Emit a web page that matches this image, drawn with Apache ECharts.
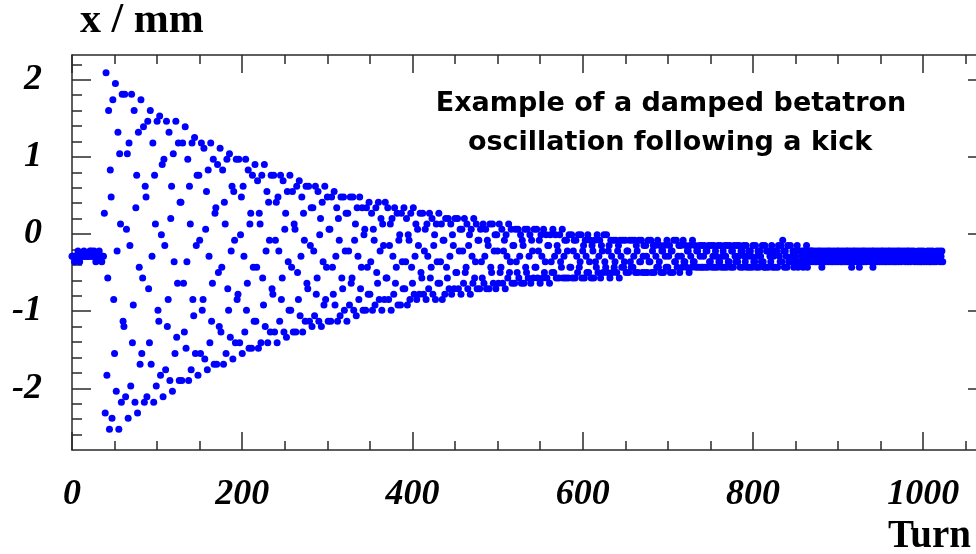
<!DOCTYPE html>
<html>
<head>
<meta charset="utf-8">
<script src="https://cdn.jsdelivr.net/npm/echarts/dist/echarts.min.js"></script>
<style>
html,body{margin:0;padding:0;background:#fff;overflow:hidden;width:976px;height:554px;}
#chart{width:990px;height:554px;}
</style>
</head>
<body>
<div id="chart"></div>
<script>
// ---- Data: horizontal beam position x (mm) per turn ----
// turns 0-39 (before / at the kick)
const xBeforeKick = [
 -0.29,-0.29,-0.29,-0.36,-0.29,-0.29,-0.29,-0.22,-0.29,-0.36,
 -0.29,-0.29,-0.29,-0.29,-0.22,-0.29,-0.29,-0.29,-0.29,-0.29,
 -0.29,-0.22,-0.29,-0.22,-0.29,-0.29,-0.22,-0.29,-0.36,-0.29,
 -0.29,-0.29,-0.22,-0.29,-0.29,-0.36,-0.29,-0.29, 0.27,-2.32
];
// turns 40-391
const xTurns40 = [
 2.09,-1.83,-0.57,1.60,-2.53,0.83,0.48,-2.39,1.74,-0.85,-1.55,
 1.95,-2.04,-0.22,1.32,-2.53,1.04,0.13,-2.18,1.81,-1.13,-1.20,
 1.81,-2.11,0.06,1.04,-2.39,1.18,-0.15,-1.97,1.81,-1.41,-0.92,
 1.60,-2.18,0.34,0.76,-2.32,1.32,-0.43,-1.69,1.74,-1.55,-0.57,
 1.39,-2.18,0.62,0.48,-2.11,1.46,-0.71,-1.41,1.60,-1.69,-0.29,
 1.18,-2.18,0.76,0.13,-1.97,1.46,-0.99,-1.13,1.53,-1.83,-0.01,
 0.90,-2.11,0.97,-0.15,-1.76,1.46,-1.20,-0.85,1.32,-1.90,0.20,
 0.62,-2.04,1.04,-0.36,-1.55,1.46,-1.34,-0.64,1.18,-1.90,0.41,
 0.41,-1.90,1.18,-0.64,-1.27,1.39,-1.48,-0.36,0.97,-1.90,0.62,
 0.13,-1.76,1.18,-0.85,-1.06,1.25,-1.55,-0.15,0.76,-1.83,0.76,
 -0.08,-1.55,1.18,-0.99,-0.85,1.11,-1.62,0.06,0.55,-1.76,0.83,
 -0.29,-1.41,1.18,-1.13,-0.64,0.97,-1.69,0.27,0.34,-1.69,0.90,
 -0.50,-1.20,1.11,-1.27,-0.43,0.83,-1.69,0.41,0.13,-1.55,0.97,
 -0.71,-0.99,1.04,-1.34,-0.22,0.62,-1.62,0.55,-0.08,-1.41,0.97,
 -0.85,-0.78,0.97,-1.41,-0.01,0.48,-1.55,0.62,-0.29,-1.27,0.97,
 -0.99,-0.64,0.83,-1.48,0.13,0.27,-1.48,0.76,-0.43,-1.13,0.90,
 -1.13,-0.43,0.69,-1.48,0.27,0.13,-1.41,0.76,-0.57,-0.92,0.90,
 -1.20,-0.22,0.55,-1.41,0.41,-0.08,-1.27,0.76,-0.71,-0.78,0.76,
 -1.27,-0.08,0.41,-1.41,0.48,-0.22,-1.13,0.76,-0.85,-0.57,0.69,
 -1.27,0.06,0.27,-1.34,0.55,-0.36,-0.99,0.76,-0.99,-0.43,0.55,
 -1.27,0.13,0.06,-1.27,0.62,-0.50,-0.85,0.69,-1.06,-0.29,0.48,
 -1.27,0.27,-0.08,-1.13,0.62,-0.64,-0.71,0.62,-1.13,-0.15,0.34,
 -1.20,0.34,-0.22,-1.06,0.62,-0.78,-0.57,0.55,-1.13,-0.01,0.20,
 -1.20,0.41,-0.36,-0.92,0.62,-0.85,-0.43,0.48,-1.13,0.06,0.06,
 -1.13,0.48,-0.43,-0.78,0.55,-0.92,-0.29,0.34,-1.13,0.20,-0.08,
 -1.06,0.48,-0.57,-0.71,0.48,-0.99,-0.22,0.27,-1.13,0.27,-0.22,
 -0.92,0.48,-0.64,-0.57,0.48,-0.99,-0.08,0.13,-1.06,0.34,-0.29,
 -0.85,0.48,-0.71,-0.43,0.34,-0.99,-0.01,0.06,-0.99,0.34,-0.43,
 -0.78,0.41,-0.78,-0.36,0.27,-0.99,0.06,-0.08,-0.92,0.34,-0.50,
 -0.64,0.41,-0.85,-0.22,0.20,-0.99,0.13,-0.15,-0.85,0.41,-0.57,
 -0.57,0.34,-0.85,-0.15,0.13,-0.99,0.20,-0.29,-0.78,0.34,-0.64,
 -0.43,0.27,-0.92,-0.08,-0.01,-0.92,0.27,-0.36,-0.71,0.34,-0.71
];
// turns 392-743
const xTurns392 = [
 -0.36,0.20,-0.92,-0.01,-0.08,-0.85,0.27,-0.43,-0.64,0.34,-0.78,
 -0.29,0.13,-0.85,0.06,-0.15,-0.78,0.27,-0.50,-0.57,0.27,-0.78,
 -0.22,0.06,-0.85,0.13,-0.29,-0.71,0.27,-0.57,-0.43,0.20,-0.78,
 -0.15,-0.01,-0.85,0.13,-0.36,-0.64,0.27,-0.64,-0.36,0.13,-0.85,
 -0.08,-0.08,-0.78,0.20,-0.43,-0.57,0.20,-0.71,-0.29,0.13,-0.78,
 -0.01,-0.15,-0.71,0.20,-0.50,-0.50,0.20,-0.71,-0.22,0.06,-0.78,
 0.06,-0.22,-0.64,0.20,-0.50,-0.43,0.13,-0.71,-0.15,-0.01,-0.78,
 0.06,-0.29,-0.64,0.20,-0.57,-0.36,0.13,-0.71,-0.08,-0.08,-0.71,
 0.06,-0.36,-0.57,0.13,-0.64,-0.29,0.06,-0.71,-0.08,-0.15,-0.71,
 0.13,-0.43,-0.50,0.13,-0.64,-0.22,-0.01,-0.71,-0.01,-0.22,-0.64,
 0.13,-0.50,-0.43,0.06,-0.64,-0.22,-0.08,-0.71,-0.01,-0.29,-0.57,
 0.13,-0.50,-0.36,0.06,-0.64,-0.15,-0.15,-0.64,0.06,-0.36,-0.50,
 0.06,-0.57,-0.29,-0.01,-0.64,-0.08,-0.15,-0.64,0.06,-0.43,-0.50,
 0.06,-0.57,-0.29,-0.01,-0.64,-0.08,-0.22,-0.57,0.06,-0.43,-0.43,
 0.06,-0.57,-0.22,-0.08,-0.64,-0.01,-0.29,-0.57,0.06,-0.50,-0.36,
 -0.01,-0.57,-0.15,-0.15,-0.64,-0.01,-0.36,-0.50,0.06,-0.50,-0.29,
 -0.01,-0.57,-0.15,-0.22,-0.57,-0.01,-0.36,-0.43,0.06,-0.57,-0.29,
 -0.08,-0.57,-0.08,-0.22,-0.57,-0.01,-0.43,-0.43,-0.01,-0.57,-0.22,
 -0.08,-0.57,-0.08,-0.29,-0.50,-0.01,-0.43,-0.36,-0.01,-0.57,-0.22,
 -0.15,-0.57,-0.08,-0.29,-0.50,-0.01,-0.50,-0.36,-0.08,-0.57,-0.15,
 -0.22,-0.57,-0.08,-0.36,-0.43,-0.01,-0.50,-0.29,-0.08,-0.57,-0.15,
 -0.22,-0.50,-0.01,-0.36,-0.43,-0.01,-0.50,-0.22,-0.15,-0.57,-0.08,
 -0.29,-0.50,-0.08,-0.43,-0.36,-0.08,-0.50,-0.22,-0.15,-0.57,-0.08,
 -0.29,-0.43,-0.08,-0.43,-0.36,-0.08,-0.50,-0.22,-0.22,-0.50,-0.08,
 -0.36,-0.43,-0.08,-0.43,-0.29,-0.08,-0.50,-0.15,-0.22,-0.50,-0.08,
 -0.36,-0.36,-0.08,-0.50,-0.29,-0.15,-0.50,-0.15,-0.29,-0.50,-0.08,
 -0.36,-0.36,-0.08,-0.50,-0.22,-0.15,-0.50,-0.15,-0.29,-0.43,-0.08,
 -0.43,-0.36,-0.15,-0.50,-0.22,-0.22,-0.50,-0.15,-0.29,-0.43,-0.08,
 -0.43,-0.29,-0.15,-0.50,-0.22,-0.22,-0.50,-0.08,-0.36,-0.36,-0.08,
 -0.43,-0.29,-0.15,-0.50,-0.15,-0.29,-0.43,-0.08,-0.36,-0.36,-0.15,
 -0.43,-0.22,-0.22,-0.50,-0.15,-0.29,-0.43,-0.08,-0.36,-0.36,-0.15,
 -0.43,-0.22,-0.22,-0.43,-0.15,-0.29,-0.43,-0.15,-0.43,-0.29,-0.15
];
// turns 744-1023
const xTurns744 = [
 -0.43,-0.22,-0.22,-0.43,-0.15,-0.36,-0.36,-0.15,-0.43,-0.29,-0.15,
 -0.43,-0.22,-0.29,-0.43,-0.15,-0.36,-0.36,-0.15,-0.43,-0.29,-0.22,
 -0.43,-0.15,-0.29,-0.43,-0.15,-0.36,-0.36,-0.15,-0.43,-0.22,-0.22,
 -0.43,-0.15,-0.29,-0.36,-0.15,-0.36,-0.29,-0.15,-0.43,-0.22,-0.22,
 -0.43,-0.15,-0.29,-0.36,-0.15,-0.43,-0.29,-0.22,-0.43,-0.22,-0.29,
 -0.43,-0.15,-0.36,-0.36,-0.15,-0.43,-0.29,-0.22,-0.43,-0.22,-0.29,
 -0.36,-0.15,-0.36,-0.43,-0.15,-0.43,-0.22,-0.22,-0.43,-0.22,-0.29,
 -0.36,-0.15,-0.43,-0.29,-0.22,-0.43,-0.22,-0.22,-0.43,-0.15,-0.29,
 -0.36,-0.15,-0.36,-0.08,-0.22,-0.43,-0.22,-0.29,-0.43,-0.15,-0.36,
 -0.36,-0.15,-0.36,-0.29,-0.22,-0.43,-0.22,-0.29,-0.36,-0.15,-0.43,
 -0.36,-0.22,-0.36,-0.29,-0.22,-0.43,-0.22,-0.29,-0.36,-0.15,-0.43,
 -0.29,-0.22,-0.36,-0.22,-0.22,-0.36,-0.22,-0.29,-0.36,-0.22,-0.36,
 -0.29,-0.22,-0.36,-0.22,-0.29,-0.43,-0.22,-0.29,-0.36,-0.22,-0.36,
 -0.29,-0.22,-0.36,-0.22,-0.29,-0.36,-0.22,-0.36,-0.29,-0.22,-0.36,
 -0.29,-0.22,-0.36,-0.22,-0.29,-0.36,-0.22,-0.36,-0.29,-0.22,-0.36,
 -0.29,-0.22,-0.36,-0.22,-0.29,-0.36,-0.22,-0.43,-0.29,-0.22,-0.36,
 -0.22,-0.29,-0.36,-0.22,-0.29,-0.43,-0.22,-0.36,-0.29,-0.22,-0.36,
 -0.22,-0.29,-0.36,-0.22,-0.29,-0.29,-0.22,-0.36,-0.29,-0.22,-0.43,
 -0.22,-0.29,-0.36,-0.22,-0.36,-0.29,-0.22,-0.36,-0.29,-0.22,-0.36,
 -0.22,-0.29,-0.36,-0.22,-0.36,-0.29,-0.22,-0.36,-0.22,-0.29,-0.36,
 -0.22,-0.29,-0.36,-0.22,-0.36,-0.29,-0.22,-0.36,-0.22,-0.29,-0.36,
 -0.22,-0.29,-0.29,-0.22,-0.36,-0.29,-0.22,-0.36,-0.22,-0.29,-0.36,
 -0.22,-0.29,-0.29,-0.22,-0.36,-0.29,-0.29,-0.36,-0.22,-0.29,-0.36,
 -0.22,-0.36,-0.29,-0.22,-0.36,-0.29,-0.29,-0.36,-0.22,-0.29,-0.36,
 -0.22,-0.36,-0.29,-0.22,-0.36,-0.29,-0.29,-0.36,-0.22,-0.29,-0.29,
 -0.22,-0.36,-0.29,-0.22,-0.36
];
// first turn of each segment
const segmentStarts = [0, 40, 392, 744];
const segments = [xBeforeKick, xTurns40, xTurns392, xTurns744];

// axis ticks / labels
const xMajorTicks = [0, 200, 400, 600, 800, 1000];
const xMinorTicks = [50,100,150,250,300,350,450,500,550,650,700,750,850,900,950,1050];
const yMajorTicks = [-2, -1, 0, 1, 2];
const yMinorTicks = [-2.6,-2.4,-2.2,-1.8,-1.6,-1.4,-1.2,-0.8,-0.6,-0.4,-0.2,0.2,0.4,0.6,0.8,1.2,1.4,1.6,1.8,2.2];
const X_MIN = 0, X_MAX = 1075, Y_MIN = -2.8, Y_MAX = 2.32;

const points = [];
segments.forEach((seg, s) => seg.forEach((v, i) => points.push([segmentStarts[s] + i, v])));

const AX = '#2a2a2a';
const labelFont = {color:'#000', fontFamily:'"Liberation Serif", serif', fontStyle:'italic', fontWeight:'bold', fontSize:36,
  formatter: v => String(v)};

function axisX(pos, ticks, len, labels, line){
  return {
    type:'value', position:pos, min:X_MIN, max:X_MAX,
    axisLine:{show:line, onZero:false, lineStyle:{color:AX, width:1.5}},
    axisTick:{show:true, inside:true, length:len, customValues:ticks, lineStyle:{color:AX, width:1.5}},
    axisLabel: labels ? Object.assign({show:true, customValues:ticks, margin:27}, labelFont) : {show:false},
    splitLine:{show:false}
  };
}
function axisY(pos, ticks, len, labels, line){
  return {
    type:'value', position:pos, min:Y_MIN, max:Y_MAX,
    axisLine:{show:line, onZero:false, lineStyle:{color:AX, width:1.5}},
    axisTick:{show:true, inside:true, length:len, customValues:ticks, lineStyle:{color:AX, width:1.5}},
    axisLabel: labels ? Object.assign({show:true, customValues:ticks, margin:30}, labelFont) : {show:false},
    splitLine:{show:false}
  };
}

const chart = echarts.init(document.getElementById('chart'), null, {renderer:'canvas'});
chart.setOption({
  animation:false,
  backgroundColor:'#ffffff',
  grid:{left:72, top:55, width:915, height:395, show:false},
  xAxis:[
    axisX('bottom', xMajorTicks, 18, true, true),
    axisX('bottom', xMinorTicks, 9, false, false),
    axisX('top', xMajorTicks, 18, false, true),
    axisX('top', xMinorTicks, 9, false, false)
  ],
  yAxis:[
    axisY('left', yMajorTicks, 19, true, true),
    axisY('left', yMinorTicks, 10, false, false),
    axisY('right', yMajorTicks, 19, false, true),
    axisY('right', yMinorTicks, 10, false, false)
  ],
  series:[{
    type:'scatter', xAxisIndex:0, yAxisIndex:0, data:points,
    symbol:'circle', symbolSize:7, silent:true,
    itemStyle:{color:'#0000ff', opacity:1}
  }],
  graphic:[
    {type:'text', x:80, y:21, style:{text:'x / mm', font:'bold 42px "Liberation Serif"', fill:'#000',
      textAlign:'left', textVerticalAlign:'middle', align:'left', verticalAlign:'middle'}},
    {type:'text', x:971, y:537, style:{text:'Turn', font:'bold 39px "Liberation Serif"', fill:'#000',
      textAlign:'right', textVerticalAlign:'middle', align:'right', verticalAlign:'middle'}},
    {type:'text', x:671, y:104, style:{text:'Example of a damped betatron', font:'bold 27px "DejaVu Sans"', fill:'#000',
      textAlign:'center', textVerticalAlign:'middle', align:'center', verticalAlign:'middle'}},
    {type:'text', x:670, y:143, style:{text:'oscillation following a kick', font:'bold 27px "DejaVu Sans"', fill:'#000',
      textAlign:'center', textVerticalAlign:'middle', align:'center', verticalAlign:'middle'}}
  ]
});
</script>
</body>
</html>
